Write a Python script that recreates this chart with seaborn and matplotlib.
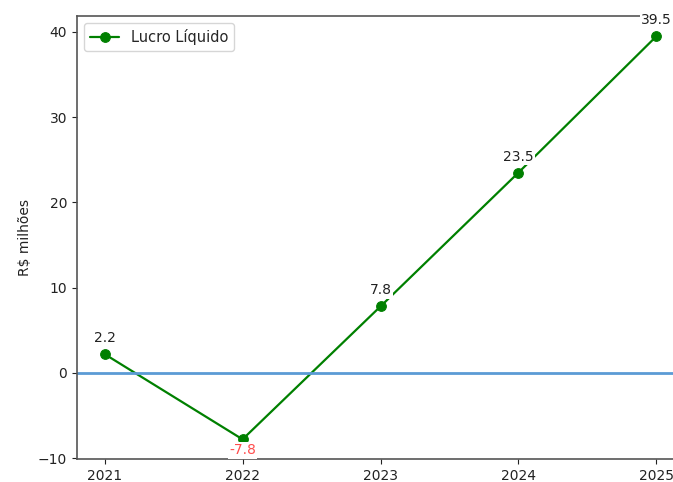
import matplotlib
matplotlib.use("Agg")
import matplotlib.pyplot as plt
import seaborn as sns
import pandas as pd

# dados do lucro liquido (R$ milhoes)
anos = [2021, 2022, 2023, 2024, 2025]
lucro = [2.2, -7.8, 7.8, 23.5, 39.5]
serie_nome = "Lucro Líquido"

df = pd.DataFrame({"ano": anos, "lucro": lucro})

sns.set_theme(style="ticks")
plt.rcParams['font.family'] = ['DejaVu Sans']

fig = plt.figure(figsize=(6.73, 4.82), dpi=100)
# eixo passa da borda direita (imagem original recortada)
ax = fig.add_axes([0.1144, 0.0467, 0.902, 0.920])

sns.lineplot(data=df, x="ano", y="lucro", color="green", marker="o",
             markersize=7, markeredgecolor="green", linewidth=1.6,
             label=serie_nome, ax=ax)

ax.axhline(0, color="#5b9bd5", linewidth=2)

caixa = dict(boxstyle="square,pad=0.1", fc="white", ec="none")
for a, v in zip(anos, lucro):
    if v < 0:
        ax.annotate(f"{v:.1f}", (a, v), textcoords="offset points", xytext=(0, -8),
                    ha="center", va="center", color="#ff4d4d", fontsize=10,
                    bbox=caixa, annotation_clip=False, zorder=5)
    else:
        ax.annotate(f"{v:.1f}", (a, v), textcoords="offset points", xytext=(0, 11.5),
                    ha="center", va="center", color="#222222", fontsize=10,
                    bbox=caixa, annotation_clip=False, zorder=5)

ax.set_xticks(anos)
ax.set_xticklabels([str(a) for a in anos])
ax.set_yticks([-10, 0, 10, 20, 30, 40])
ax.tick_params(labelsize=10, colors="#222222", length=3.5, width=0.8)
ax.set_xlabel("")
ax.set_ylabel("R$ milhões", fontsize=10, color="#222222")
for s in ax.spines.values():
    s.set_color("#555555")
    s.set_linewidth(1.2)
ax.spines["right"].set_visible(False)

ax.legend(loc="upper left", fontsize=10.5, frameon=True, framealpha=0.8,
          edgecolor="#cccccc", handlelength=2)

fig.savefig("out.png", dpi=100)
